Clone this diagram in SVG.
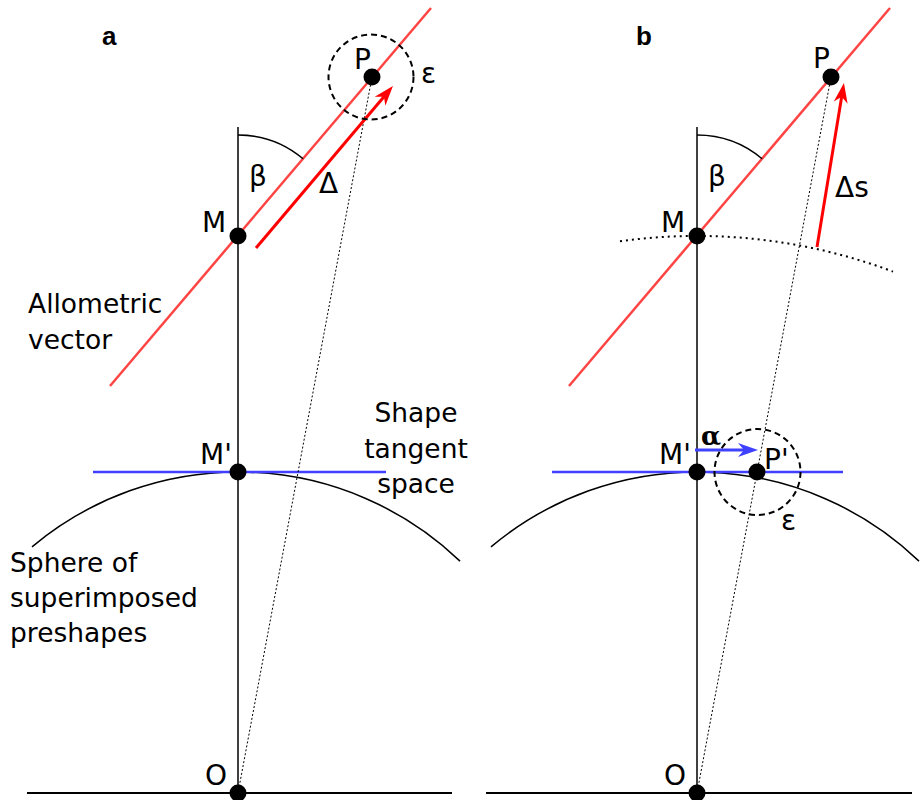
<svg xmlns="http://www.w3.org/2000/svg" width="920" height="800" viewBox="0 0 920 800">
<style>
text{font-family:"DejaVu Sans","Verdana",sans-serif;fill:#000}
.lbl{font-size:28px}
.txt{font-size:26.5px}
.panel{font-family:"Liberation Sans","Arial",sans-serif;font-size:26px;font-weight:bold}
.alpha{font-family:"DejaVu Serif",serif;font-size:26px;font-weight:bold}
.dot{fill:#000}
.axis{stroke:#000;stroke-width:1.5;fill:none}
.base{stroke:#000;stroke-width:2;fill:none}
.allo{stroke:#ff4444;stroke-width:2.5;fill:none}
.vec{stroke:#ff0000;stroke-width:3;fill:none}
.tan{stroke:#4040ff;stroke-width:2.5;fill:none}
.bvec{stroke:#4040ff;stroke-width:3;fill:none}
.sph{stroke:#000;stroke-width:1.5;fill:none}
.ray{stroke:#000;stroke-width:1;stroke-dasharray:2,2;fill:none}
.dots{stroke:#000;stroke-width:2;stroke-dasharray:2,4;fill:none}
.eps{stroke:#000;stroke-width:2;stroke-dasharray:6,4;fill:none}
.ang{stroke:#000;stroke-width:1.5;fill:none}
</style>
<defs>
<marker id="arR" markerUnits="userSpaceOnUse" markerWidth="24" markerHeight="18" viewBox="0 -9 22 18" refX="8" refY="0" orient="auto">
<path d="M20,0 L0,-7 L6,0 L0,7 Z" fill="#ff0000"/>
</marker>
<marker id="arB" markerUnits="userSpaceOnUse" markerWidth="24" markerHeight="18" viewBox="0 -9 22 18" refX="8" refY="0" orient="auto">
<path d="M20,0 L0,-7 L6,0 L0,7 Z" fill="#4040ff"/>
</marker>
</defs>

<g id="connectors">
  <!-- panel a -->
  <line class="base" x1="27" y1="793" x2="452" y2="793"/>
  <line class="axis" x1="238" y1="127" x2="238" y2="793"/>
  <path class="sph" d="M32,546.8 A321,321 0 0 1 460,561.1"/>
  <line class="tan" x1="93" y1="472" x2="386" y2="472"/>
  <line class="ray" x1="372" y1="77" x2="238" y2="793"/>
  <line class="allo" x1="110" y1="386" x2="431" y2="8"/>
  <path class="ang" d="M238,135 A101,101 0 0 1 303.1,158.8"/>
  <line class="vec" x1="256" y1="248" x2="385.2" y2="95.2" marker-end="url(#arR)"/>
  <circle class="eps" cx="371" cy="77" r="42.5"/>
  <!-- panel b -->
  <line class="base" x1="486" y1="793" x2="912" y2="793"/>
  <line class="axis" x1="697" y1="127" x2="697" y2="793"/>
  <path class="sph" d="M491,546.8 A321,321 0 0 1 919,561.1"/>
  <line class="tan" x1="552" y1="472" x2="843" y2="472"/>
  <line class="ray" x1="831" y1="77" x2="697" y2="793"/>
  <line class="allo" x1="569" y1="386" x2="890" y2="8"/>
  <path class="ang" d="M697,135 A101,101 0 0 1 762.1,158.8"/>
  <path class="dots" d="M620,241.3 A557,557 0 0 1 893,271.6"/>
  <line class="vec" x1="817" y1="247" x2="842" y2="94.8" marker-end="url(#arR)"/>
  <line class="bvec" x1="695" y1="450" x2="746" y2="450" marker-end="url(#arB)"/>
  <circle class="eps" cx="757.5" cy="472" r="43"/>
</g>

<g id="panel-a-labels">
  <text class="panel" x="102" y="45">a</text>
  <text class="lbl" x="249" y="186">β</text>
  <text class="lbl" x="319" y="193">Δ</text>
  <text class="lbl" x="421" y="83">ε</text>
  <text class="txt" x="28" y="313">Allometric</text>
  <text class="txt" x="28" y="349">vector</text>
  <text class="txt" text-anchor="middle" x="416" y="422">Shape</text>
  <text class="txt" text-anchor="middle" x="416" y="458">tangent</text>
  <text class="txt" text-anchor="middle" x="416" y="493">space</text>
  <text class="txt" x="10" y="572">Sphere of</text>
  <text class="txt" x="10" y="607">superimposed</text>
  <text class="txt" x="10" y="642">preshapes</text>
</g>
<g id="node-a-P"><circle class="dot" cx="372" cy="77" r="8.5"/><text class="lbl" x="354" y="69">P</text></g>
<g id="node-a-M"><circle class="dot" cx="238" cy="236" r="8.5"/><text class="lbl" x="202" y="232">M</text></g>
<g id="node-a-Mp"><circle class="dot" cx="238" cy="472" r="8.5"/><text class="lbl" x="200" y="464">M'</text></g>
<g id="node-a-O"><circle class="dot" cx="238" cy="793" r="8.5"/><text class="lbl" x="205" y="785">O</text></g>

<g id="panel-b-labels">
  <text class="panel" x="636" y="45">b</text>
  <text class="lbl" x="708" y="186">β</text>
  <text class="lbl" x="835" y="197">Δs</text>
  <text class="alpha" x="701" y="445">α</text>
  <text class="lbl" x="781" y="530">ε</text>
</g>
<g id="node-b-P"><circle class="dot" cx="831" cy="77" r="8.5"/><text class="lbl" x="813" y="68">P</text></g>
<g id="node-b-M"><circle class="dot" cx="697" cy="236" r="8.5"/><text class="lbl" x="661" y="232">M</text></g>
<g id="node-b-Mp"><circle class="dot" cx="697" cy="472" r="8.5"/><text class="lbl" x="659" y="464">M'</text></g>
<g id="node-b-Pp"><circle class="dot" cx="757" cy="472" r="8.5"/><text class="lbl" x="764" y="469">P'</text></g>
<g id="node-b-O"><circle class="dot" cx="697" cy="793" r="8.5"/><text class="lbl" x="664" y="785">O</text></g>
</svg>
